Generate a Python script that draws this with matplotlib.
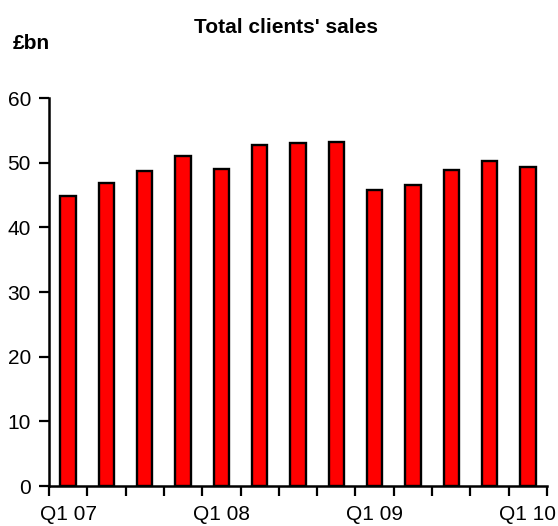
import matplotlib
matplotlib.use("Agg")
import matplotlib.pyplot as plt

# Total clients' sales, GBP bn, quarterly Q1 07 .. Q1 10
quarters = ["Q1 07", "Q2 07", "Q3 07", "Q4 07",
            "Q1 08", "Q2 08", "Q3 08", "Q4 08",
            "Q1 09", "Q2 09", "Q3 09", "Q4 09",
            "Q1 10"]
sales = [44.9, 46.8, 48.7, 51.1, 49.0, 52.8, 53.0, 53.2, 45.8, 46.5, 48.9, 50.3, 49.4]
yticks = [0, 10, 20, 30, 40, 50, 60]

plt.rcParams['font.family'] = ['Liberation Sans', 'DejaVu Sans']

fig = plt.figure(figsize=(5.58, 5.26), dpi=100)
ax = fig.add_axes([49 / 558, 40 / 526, 498 / 558, 388 / 526])

x = list(range(len(quarters)))
ax.bar(x, sales, width=0.4, color='#ff0000', edgecolor='black', linewidth=1.7, zorder=3)

ax.set_xlim(-0.5, len(quarters) - 0.5)
ax.set_ylim(0, 60)
ax.set_yticks(yticks)

# labels every 4th quarter, tick marks on category boundaries
ax.set_xticks([i for i in x if i % 4 == 0])
ax.set_xticklabels([quarters[i] for i in x if i % 4 == 0])
ax.set_xticks([i - 0.5 for i in range(len(quarters) + 1)], minor=True)
ax.tick_params(axis='x', which='major', length=0, pad=14, labelsize=15)
ax.tick_params(axis='x', which='minor', length=7, width=1.6, direction='out')
ax.tick_params(axis='y', length=7, width=1.6, pad=6, labelsize=15)

for side in ['top', 'right']:
    ax.spines[side].set_visible(False)
for side in ['left', 'bottom']:
    ax.spines[side].set_linewidth(1.8)

fig.text(286 / 558, 1 - 33 / 526, "Total clients' sales", ha='center', va='baseline',
         fontsize=15, fontweight='bold')
fig.text(13 / 558, 1 - 49 / 526, "£bn", ha='left', va='baseline',
         fontsize=15, fontweight='bold')

fig.savefig('out.png', dpi=100)
